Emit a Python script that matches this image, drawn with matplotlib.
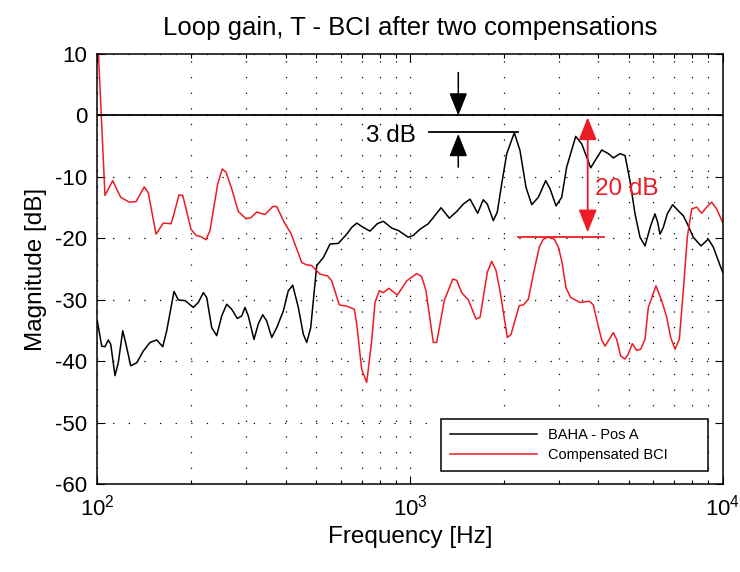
import matplotlib
matplotlib.use('Agg')
import matplotlib.pyplot as plt

plt.rcParams['font.family'] = ['Liberation Sans', 'DejaVu Sans']
plt.rcParams['mathtext.default'] = 'regular'
plt.rcParams['axes.unicode_minus'] = False

# BAHA - Pos A (black)
f_baha = [100, 103.3, 105.8, 108.4, 110.4, 113.9, 116.7, 120.6, 123.5, 127.9, 133.7, 140.3,
          147.4, 154.9, 161.9, 166.7, 175.9, 181.6, 190.8, 202.8, 210.4, 218.3, 223.8, 232.2,
          240.9, 249.9, 259.3, 269.0, 280.4, 289.6, 296.7, 304.0, 317.0, 327.2, 338.0, 348.1,
          361.2, 374.8, 393.4, 408.1, 421.6, 439.4, 456.0, 467.5, 481.4, 503.2, 528.2, 554.9,
          589.8, 627.5, 651.1, 675.5, 709.2, 744.9, 786.0, 821.5, 874.0, 917.6, 987.6, 1024.7,
          1076, 1144, 1187, 1257, 1336, 1411, 1481, 1556, 1646, 1715, 1767, 1847, 1902, 1965,
          2039, 2156, 2248, 2350, 2451, 2573, 2716, 2804, 2931, 3056, 3170, 3388, 3541, 3784,
          3934, 4104, 4307, 4469, 4695, 4871, 5052, 5244, 5440, 5643, 5886, 6074, 6197, 6302,
          6457, 6650, 6919, 7211, 7482, 7706, 8054, 8523, 8995, 9333, 9681, 10000]
mag_baha = [-33.4, -37.5, -37.6, -36.5, -37.2, -42.3, -40.2, -35.0, -37.2, -40.7, -40.2, -38.3,
            -36.9, -36.5, -37.6, -35.0, -28.6, -30.0, -30.1, -31.2, -30.4, -28.8, -29.6, -34.5,
            -35.8, -32.6, -30.7, -31.5, -33.0, -32.6, -31.2, -32.6, -36.4, -33.9, -32.4, -33.4,
            -36.1, -34.5, -31.8, -28.5, -27.6, -31.2, -35.6, -36.9, -34.5, -24.4, -23.1, -20.9,
            -20.8, -19.3, -18.2, -17.5, -18.2, -18.8, -17.6, -17.2, -18.3, -18.7, -19.8, -19.5,
            -18.5, -17.6, -16.6, -15.0, -16.7, -15.6, -14.4, -13.6, -15.9, -13.7, -14.4, -17.1,
            -15.7, -11.1, -6.2, -2.8, -5.7, -11.7, -14.5, -13.3, -10.6, -11.9, -14.7, -13.3,
            -8.4, -3.4, -4.6, -8.5, -7.1, -5.6, -6.2, -6.9, -6.2, -6.5, -10.6, -16.0, -19.8,
            -21.2, -17.9, -16.0, -17.4, -19.3, -18.2, -16.0, -14.5, -15.5, -16.3, -17.6, -19.8,
            -21.2, -20.1, -21.4, -23.6, -25.5]

# Compensated BCI (red)
f_bci = [100, 105.8, 112.0, 118.8, 126.6, 133.0, 141.3, 145.6, 154.1, 162.6, 172.1, 175.9,
         182.5, 187.6, 199.4, 206.9, 214.6, 222.6, 229.3, 242.7, 251.0, 257.9, 269.0, 282.4,
         298.9, 310.1, 323.4, 343.8, 363.9, 374.8, 396.3, 416.4, 450.6, 467.5, 484.9, 515.5,
         545.6, 561.9, 594.2, 627.5, 663.6, 675.5, 700.8, 727.0, 754.3, 772.9, 797.7, 821.5,
         856.7, 910.8, 975.9, 1050.5, 1090, 1125, 1187, 1217, 1287, 1370, 1411, 1463, 1537,
         1626, 1675, 1767, 1825, 1884, 1940, 2048, 2104, 2236, 2303, 2390, 2480, 2591, 2669,
         2769, 2894, 2981, 3056, 3154, 3265, 3498, 3745, 3857, 3985, 4104, 4205, 4469, 4582,
         4719, 4871, 4990, 5139, 5309, 5468, 5643, 5783, 6118, 6381, 6622, 6820, 7040, 7266,
         7482, 7706, 7960, 8258, 8568, 8889, 9222, 9568, 10000]
mag_bci = [14, -13.0, -10.6, -13.3, -14.1, -14.0, -11.6, -12.6, -19.3, -17.5, -17.6, -16.0,
           -12.9, -13.0, -18.5, -19.5, -19.7, -20.2, -18.7, -11.1, -8.7, -9.2, -11.9, -15.6,
           -16.8, -16.6, -15.7, -16.1, -14.8, -14.8, -17.4, -19.2, -23.9, -24.3, -24.4, -25.8,
           -26.1, -26.9, -30.8, -31.0, -31.5, -33.9, -41.3, -43.4, -36.6, -30.4, -28.5, -28.8,
           -28.1, -29.2, -26.9, -25.7, -26.2, -28.5, -36.9, -36.9, -30.1, -26.6, -26.8, -28.8,
           -30.0, -33.1, -32.8, -25.5, -23.7, -25.2, -28.5, -36.1, -35.6, -30.9, -30.8, -29.9,
           -25.8, -21.4, -20.1, -19.8, -20.1, -21.4, -23.6, -28.0, -29.6, -30.4, -30.2, -30.8,
           -33.9, -36.5, -37.5, -35.3, -36.4, -39.1, -39.6, -38.8, -37.1, -38.2, -38.0, -36.4,
           -31.2, -27.7, -30.1, -32.8, -36.1, -38.0, -36.4, -28.5, -19.8, -15.2, -14.9, -15.9,
           -14.9, -14.1, -15.2, -17.4]

# annotation values (Hz / dB)
f_3db_arrow = 1427
line_3db_f = [1153, 2220]
line_3db_val = -2.7
f_20db_arrow = 3701
line_20db_f = [2220, 4172]
line_20db_val = -19.8

red = '#ed1c24'

fig = plt.figure(figsize=(7.4, 5.72), dpi=100)
ax = fig.add_axes([0.1315, 0.153, 0.8451, 0.7526])

ax.semilogx(f_baha, mag_baha, color='k', lw=1.1, label='BAHA - Pos A')
ax.semilogx(f_bci, mag_bci, color=red, lw=1.1, label='Compensated BCI')
ax.axhline(0, color='k', lw=1.3)

ax.set_xlim(100, 10000)
ax.set_ylim(-60, 10)
ax.set_yticks(range(-60, 11, 10))

dots = (0, (1, 11.5))
ax.grid(True, which='both', axis='x', ls=dots, lw=0.9, color='k')
ax.grid(True, which='major', axis='y', ls=dots, lw=0.9, color='k')

ax.tick_params(which='both', direction='in', top=True, right=True, labelsize=16, width=0.8)
ax.tick_params(which='major', length=6, pad=7)
ax.tick_params(which='minor', length=3)
for s in ax.spines.values():
    s.set_linewidth(1.1)

ax.set_title('Loop gain, T - BCI after two compensations', fontsize=18.5, pad=14)
ax.set_xlabel('Frequency [Hz]', fontsize=17.5)
ax.set_ylabel('Magnitude [dB]', fontsize=17.5, labelpad=6)

# 3 dB marker
ax.plot(line_3db_f, [line_3db_val, line_3db_val], color='k', lw=1.3)
arw = dict(arrowstyle='-|>,head_length=0.7,head_width=0.28', color='k', lw=1.1,
           shrinkA=0, shrinkB=0, mutation_scale=20)
ax.annotate('', xy=(f_3db_arrow, 0), xytext=(f_3db_arrow, 7.0), arrowprops=arw)
ax.annotate('', xy=(f_3db_arrow, -3.0), xytext=(f_3db_arrow, -8.4), arrowprops=arw)
ax.text(1045, -3.4, '3 dB', fontsize=17.5, ha='right', va='center')

# 20 dB marker
ax.plot(line_20db_f, [line_20db_val, line_20db_val], color=red, lw=1.3)
arw2 = dict(arrowstyle='<|-|>,head_length=0.7,head_width=0.28', color=red, lw=1.3,
            shrinkA=0, shrinkB=0, mutation_scale=20)
ax.annotate('', xy=(f_20db_arrow, -0.3), xytext=(f_20db_arrow, -19.0), arrowprops=arw2)
ax.text(3916, -12.0, '20 dB', fontsize=17.5, color=red, ha='left', va='center')

leg = ax.legend(loc='lower left', bbox_to_anchor=(0.5496, 0.0314, 0.4269, 0.1231),
                mode='expand', borderaxespad=0, fontsize=10.5, fancybox=False,
                framealpha=1, edgecolor='k', handlelength=6.0, handletextpad=0.75,
                borderpad=0.6, labelspacing=0.45)
leg.get_frame().set_linewidth(1.1)

fig.savefig('out.png', dpi=100)
